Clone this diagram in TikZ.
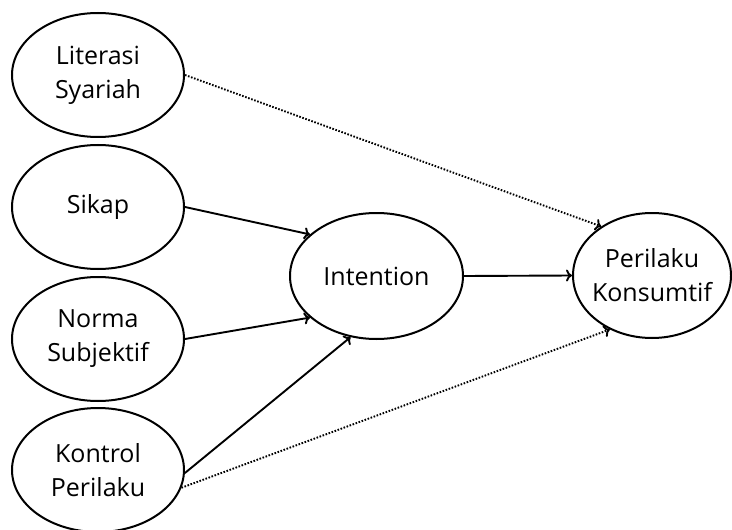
\documentclass[tikz,border=0pt]{standalone}
\usepackage{fontspec}
\setmainfont{Open Sans}
\usetikzlibrary{shapes.geometric,arrows.meta}
\begin{document}
\begin{tikzpicture}[x=0.5pt,y=-0.5pt,
  var/.style={ellipse,draw,line width=1pt,inner sep=0pt,minimum width=86pt,minimum height=62pt,align=center,font=\fontsize{12.5pt}{17pt}\selectfont},
  arr/.style={line width=0.95pt,-{To[length=3pt,width=6pt]}},
  dot/.style={arr,dash pattern=on 0.8pt off 0.8pt}]
\useasboundingbox (0,0) rectangle (732,529);
\node[var] (lit) at (98,75) {Literasi\\Syariah};
\node[var] (sik) at (98,207) {Sikap};
\node[var] (nor) at (98,339) {Norma\\Subjektif};
\node[var] (kon) at (98,470) {Kontrol\\Perilaku};
\node[var,minimum width=86.5pt,minimum height=63pt] (int) at (376.5,276) {Intention};
\node[var,inner xsep=-5pt,minimum width=79pt,minimum height=62.5pt] (per) at (652,275.5) {Perilaku\\Konsumtif};
\draw[arr] (sik.east) -- (int.148);
\draw[arr] (nor.east) -- (int.212);
\draw[arr] (kon.-2) -- (int.247);
\draw[arr] (int.east) -- (per.west);
\draw[dot] (lit.east) -- (per.136);
\draw[dot] (kon.-12) -- (per.232);
\end{tikzpicture}
\end{document}
